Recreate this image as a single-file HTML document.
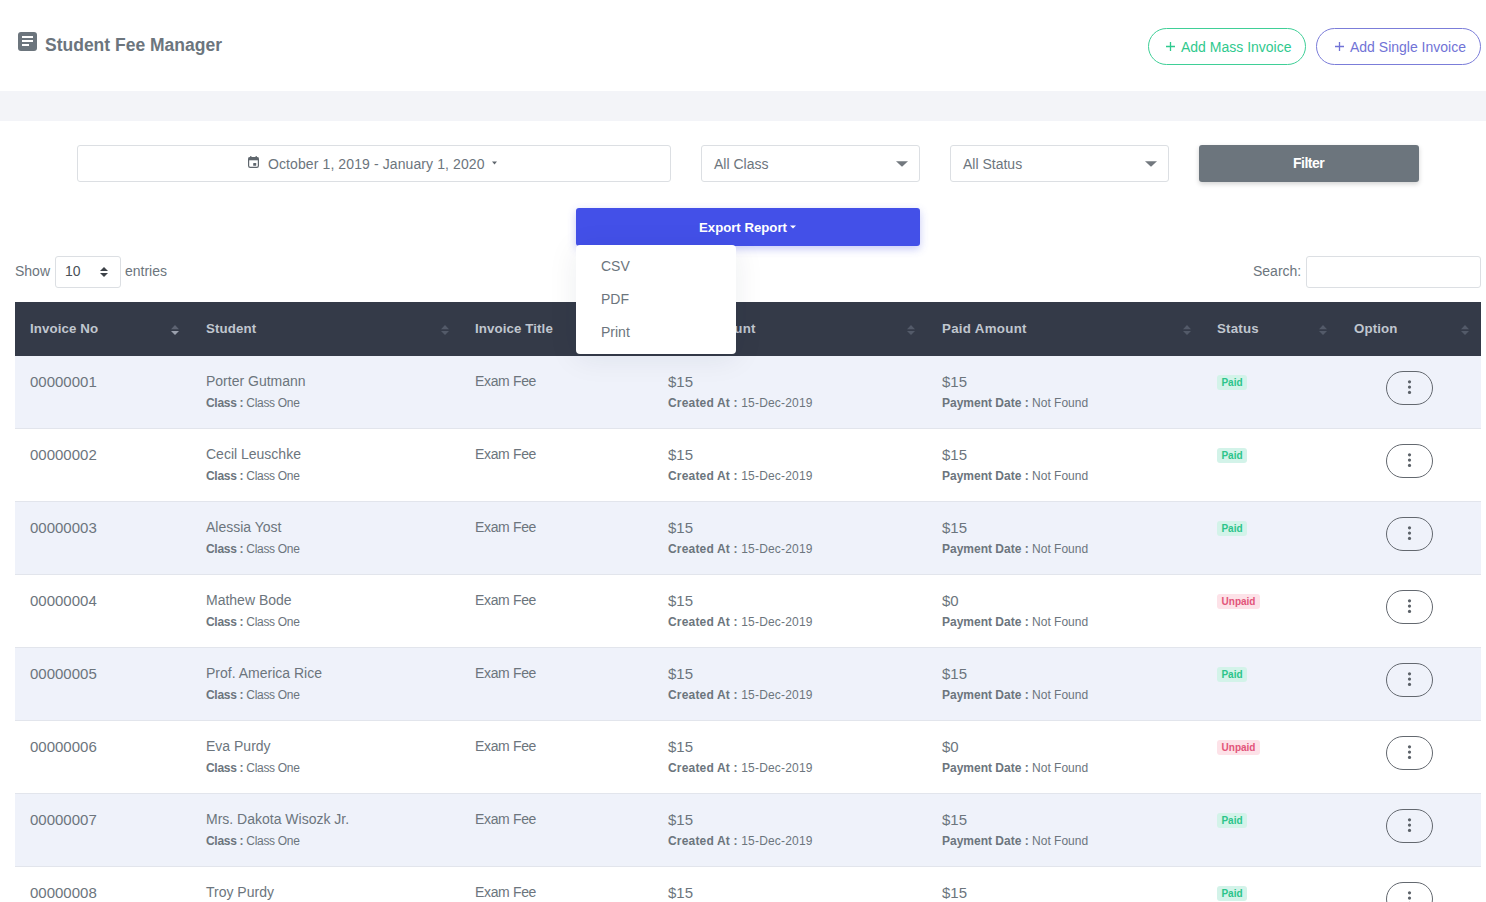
<!DOCTYPE html>
<html><head><meta charset="utf-8"><title>Student Fee Manager</title>
<style>
*{box-sizing:border-box;margin:0;padding:0}
html,body{width:1486px;height:902px;overflow:hidden;background:#fff;font-family:"Liberation Sans",sans-serif;color:#6c757d}
.a{position:absolute}
.t{position:absolute;white-space:nowrap;line-height:1}
.inp{position:absolute;border:1px solid #dcdfe3;border-radius:3px;background:#fff}
.th{position:absolute;top:322px;font-size:13.3px;font-weight:bold;color:#c0c6cf;white-space:nowrap;line-height:1}
.row{position:absolute;left:15px;width:1466px;height:73px;border-bottom:1px solid #e2e5ec}
.c{position:absolute;white-space:nowrap;font-size:14px;color:#6c757d;line-height:1}
.d{font-size:15px}
.s{position:absolute;white-space:nowrap;font-size:12px;color:#6c757d;line-height:1}
.badge{position:absolute;font-size:10px;font-weight:bold;border-radius:3px;height:15px;line-height:15px;text-align:center}
.paid{background:#d3f3e9;color:#2cc48a;width:30px}
.unpaid{background:#fde2e8;color:#e2557a;width:43px}
.opt{position:absolute;left:1386px;width:47px;height:34px;border:1px solid #63686f;border-radius:17px}
.opt i{position:absolute;left:20.5px;width:3.6px;height:3.6px;border-radius:2px;background:#5b6168}
</style></head><body>
<svg class="a" style="left:18px;top:32px" width="19" height="19" viewBox="0 0 19 19"><rect x="0" y="0" width="19" height="19" rx="3" fill="#6c757d"/><rect x="4" y="4" width="11" height="2" fill="#fff"/><rect x="4" y="8" width="11" height="2" fill="#fff"/><rect x="4" y="12" width="7" height="2" fill="#fff"/></svg>
<div class="t" style="left:45px;top:37px;font-size:17.5px;font-weight:bold">Student Fee Manager</div>
<div class="a" style="left:1148px;top:28px;width:158px;height:37px;border:1px solid #3fcf97;border-radius:18.5px"></div>
<svg class="a" style="left:1166px;top:42px" width="9" height="9" viewBox="0 0 9 9"><path d="M4.5 0V9M0 4.5H9" stroke="#2fc98e" stroke-width="1.3"/></svg>
<div class="t" style="left:1181px;top:40px;font-size:14px;color:#2fc98e">Add Mass Invoice</div>
<div class="a" style="left:1316px;top:28px;width:165px;height:37px;border:1px solid #7b7dd9;border-radius:18.5px"></div>
<svg class="a" style="left:1335px;top:42px" width="9" height="9" viewBox="0 0 9 9"><path d="M4.5 0V9M0 4.5H9" stroke="#7173d6" stroke-width="1.3"/></svg>
<div class="t" style="left:1350px;top:40px;font-size:14px;color:#7173d6">Add Single Invoice</div>
<div class="a" style="left:0;top:91px;width:1486px;height:30px;background:#f3f4f8"></div>
<div class="inp" style="left:77px;top:145px;width:594px;height:37px"></div>
<div class="inp" style="left:701px;top:145px;width:219px;height:37px"></div>
<div class="inp" style="left:950px;top:145px;width:219px;height:37px"></div>
<div class="a" style="left:1199px;top:145px;width:220px;height:37px;background:#6c757d;border-radius:3px;box-shadow:0 2px 5px rgba(0,0,0,.18)"></div>
<div class="t" style="left:1293px;top:156px;font-size:14px;font-weight:bold;color:#fff;letter-spacing:-0.5px">Filter</div>
<svg class="a" style="left:248px;top:156px" width="11" height="12" viewBox="0 0 11 12"><rect x="0.6" y="1.6" width="9.8" height="9.8" rx="1.6" fill="none" stroke="#5f666d" stroke-width="1.2"/><rect x="0.5" y="1.5" width="10" height="2.8" fill="#5f666d"/><rect x="2.2" y="0" width="1.2" height="2" fill="#5f666d"/><rect x="7.6" y="0" width="1.2" height="2" fill="#5f666d"/><rect x="5.2" y="7" width="3" height="2.8" rx="0.6" fill="#5f666d"/></svg>
<div class="t" style="left:268px;top:157px;font-size:14px;letter-spacing:0.1px">October 1, 2019 - January 1, 2020</div>
<svg class="a" style="left:492px;top:161px" width="5" height="4" viewBox="0 0 5 4"><path d="M0 0.5H5L2.5 3.5Z" fill="#5f666d"/></svg>
<div class="t" style="left:714px;top:157px;font-size:14px">All Class</div>
<div class="t" style="left:963px;top:157px;font-size:14px">All Status</div>
<svg class="a" style="left:896px;top:161px" width="12" height="6" viewBox="0 0 12 6"><path d="M0 0.3H12L6 5.8Z" fill="#72787e"/></svg>
<svg class="a" style="left:1145px;top:161px" width="12" height="6" viewBox="0 0 12 6"><path d="M0 0.3H12L6 5.8Z" fill="#72787e"/></svg>
<div class="a" style="left:576px;top:208px;width:344px;height:38px;background:#4350e8;border-radius:3px;box-shadow:0 3px 8px rgba(67,80,232,.30)"></div>
<div class="t" style="left:699px;top:220.5px;font-size:13.2px;font-weight:bold;color:#fff">Export Report</div>
<svg class="a" style="left:790px;top:225px" width="6" height="4" viewBox="0 0 6 4"><path d="M0 0.5H6L3 3.5Z" fill="#fff"/></svg>
<div class="t" style="left:15px;top:264px;font-size:14px">Show</div>
<div class="inp" style="left:55px;top:256px;width:66px;height:32px"></div>
<div class="t" style="left:65px;top:264px;font-size:14px;color:#495057">10</div>
<svg class="a" style="left:100px;top:267px" width="8" height="10" viewBox="0 0 8 10"><path d="M0 4H8L4 0Z M0 6H8L4 10Z" fill="#3d4248"/></svg>
<div class="t" style="left:125px;top:264px;font-size:14px">entries</div>
<div class="t" style="left:1253px;top:264px;font-size:14px">Search:</div>
<div class="inp" style="left:1306px;top:256px;width:175px;height:32px"></div>
<div class="a" style="left:15px;top:302px;width:1466px;height:54px;background:#343a48"></div>
<div class="th" style="left:30px;letter-spacing:0.1px">Invoice No</div>
<div class="th" style="left:206px;letter-spacing:0.1px">Student</div>
<div class="th" style="left:475px;letter-spacing:0.1px">Invoice Title</div>
<div class="th" style="left:668px;letter-spacing:0.3px">Total Amount</div>
<div class="th" style="left:942px;letter-spacing:0.3px">Paid Amount</div>
<div class="th" style="left:1217px;letter-spacing:0.2px">Status</div>
<div class="th" style="left:1354px;letter-spacing:0.1px">Option</div>
<svg class="a" style="left:171px;top:325px" width="8" height="10" viewBox="0 0 8 10"><path d="M0 4.3L4 0L8 4.3Z" fill="#5d6372"/><path d="M0 6L8 6L4 10Z" fill="#9aa0ad"/></svg>
<svg class="a" style="left:440.5px;top:325px" width="8" height="10" viewBox="0 0 8 10"><path d="M0 4.3L4 0L8 4.3Z" fill="#535a69"/><path d="M0 6L8 6L4 10Z" fill="#535a69"/></svg>
<svg class="a" style="left:637px;top:325px" width="8" height="10" viewBox="0 0 8 10"><path d="M0 4.3L4 0L8 4.3Z" fill="#535a69"/><path d="M0 6L8 6L4 10Z" fill="#535a69"/></svg>
<svg class="a" style="left:907px;top:325px" width="8" height="10" viewBox="0 0 8 10"><path d="M0 4.3L4 0L8 4.3Z" fill="#535a69"/><path d="M0 6L8 6L4 10Z" fill="#535a69"/></svg>
<svg class="a" style="left:1182.5px;top:325px" width="8" height="10" viewBox="0 0 8 10"><path d="M0 4.3L4 0L8 4.3Z" fill="#535a69"/><path d="M0 6L8 6L4 10Z" fill="#535a69"/></svg>
<svg class="a" style="left:1318.5px;top:325px" width="8" height="10" viewBox="0 0 8 10"><path d="M0 4.3L4 0L8 4.3Z" fill="#535a69"/><path d="M0 6L8 6L4 10Z" fill="#535a69"/></svg>
<svg class="a" style="left:1461px;top:325px" width="8" height="10" viewBox="0 0 8 10"><path d="M0 4.3L4 0L8 4.3Z" fill="#535a69"/><path d="M0 6L8 6L4 10Z" fill="#535a69"/></svg>
<div class="row" style="top:356px;background:#eff2fa"></div>
<div class="c d" style="left:30px;top:374px">00000001</div>
<div class="c" style="left:206px;top:374px">Porter Gutmann</div>
<div class="s" style="left:206px;top:397px;letter-spacing:-0.3px"><b>Class :</b> Class One</div>
<div class="c" style="left:475px;top:374px;letter-spacing:-0.35px">Exam Fee</div>
<div class="c d" style="left:668px;top:374px">$15</div>
<div class="s" style="left:668px;top:397px;letter-spacing:0.18px"><b>Created At :</b> 15-Dec-2019</div>
<div class="c d" style="left:942px;top:374px">$15</div>
<div class="s" style="left:942px;top:397px"><b>Payment Date :</b> Not Found</div>
<div class="badge paid" style="left:1217px;top:375px">Paid</div>
<div class="opt" style="top:371px"></div><svg class="a" style="left:1404px;top:371px" width="11" height="34" viewBox="0 0 11 34"><circle cx="5.5" cy="10.8" r="1.6" fill="#5b6168"/><circle cx="5.5" cy="16.1" r="1.6" fill="#5b6168"/><circle cx="5.5" cy="21.4" r="1.6" fill="#5b6168"/></svg>
<div class="row" style="top:429px;background:#fff"></div>
<div class="c d" style="left:30px;top:447px">00000002</div>
<div class="c" style="left:206px;top:447px">Cecil Leuschke</div>
<div class="s" style="left:206px;top:470px;letter-spacing:-0.3px"><b>Class :</b> Class One</div>
<div class="c" style="left:475px;top:447px;letter-spacing:-0.35px">Exam Fee</div>
<div class="c d" style="left:668px;top:447px">$15</div>
<div class="s" style="left:668px;top:470px;letter-spacing:0.18px"><b>Created At :</b> 15-Dec-2019</div>
<div class="c d" style="left:942px;top:447px">$15</div>
<div class="s" style="left:942px;top:470px"><b>Payment Date :</b> Not Found</div>
<div class="badge paid" style="left:1217px;top:448px">Paid</div>
<div class="opt" style="top:444px"></div><svg class="a" style="left:1404px;top:444px" width="11" height="34" viewBox="0 0 11 34"><circle cx="5.5" cy="10.8" r="1.6" fill="#5b6168"/><circle cx="5.5" cy="16.1" r="1.6" fill="#5b6168"/><circle cx="5.5" cy="21.4" r="1.6" fill="#5b6168"/></svg>
<div class="row" style="top:502px;background:#eff2fa"></div>
<div class="c d" style="left:30px;top:520px">00000003</div>
<div class="c" style="left:206px;top:520px">Alessia Yost</div>
<div class="s" style="left:206px;top:543px;letter-spacing:-0.3px"><b>Class :</b> Class One</div>
<div class="c" style="left:475px;top:520px;letter-spacing:-0.35px">Exam Fee</div>
<div class="c d" style="left:668px;top:520px">$15</div>
<div class="s" style="left:668px;top:543px;letter-spacing:0.18px"><b>Created At :</b> 15-Dec-2019</div>
<div class="c d" style="left:942px;top:520px">$15</div>
<div class="s" style="left:942px;top:543px"><b>Payment Date :</b> Not Found</div>
<div class="badge paid" style="left:1217px;top:521px">Paid</div>
<div class="opt" style="top:517px"></div><svg class="a" style="left:1404px;top:517px" width="11" height="34" viewBox="0 0 11 34"><circle cx="5.5" cy="10.8" r="1.6" fill="#5b6168"/><circle cx="5.5" cy="16.1" r="1.6" fill="#5b6168"/><circle cx="5.5" cy="21.4" r="1.6" fill="#5b6168"/></svg>
<div class="row" style="top:575px;background:#fff"></div>
<div class="c d" style="left:30px;top:593px">00000004</div>
<div class="c" style="left:206px;top:593px">Mathew Bode</div>
<div class="s" style="left:206px;top:616px;letter-spacing:-0.3px"><b>Class :</b> Class One</div>
<div class="c" style="left:475px;top:593px;letter-spacing:-0.35px">Exam Fee</div>
<div class="c d" style="left:668px;top:593px">$15</div>
<div class="s" style="left:668px;top:616px;letter-spacing:0.18px"><b>Created At :</b> 15-Dec-2019</div>
<div class="c d" style="left:942px;top:593px">$0</div>
<div class="s" style="left:942px;top:616px"><b>Payment Date :</b> Not Found</div>
<div class="badge unpaid" style="left:1217px;top:594px">Unpaid</div>
<div class="opt" style="top:590px"></div><svg class="a" style="left:1404px;top:590px" width="11" height="34" viewBox="0 0 11 34"><circle cx="5.5" cy="10.8" r="1.6" fill="#5b6168"/><circle cx="5.5" cy="16.1" r="1.6" fill="#5b6168"/><circle cx="5.5" cy="21.4" r="1.6" fill="#5b6168"/></svg>
<div class="row" style="top:648px;background:#eff2fa"></div>
<div class="c d" style="left:30px;top:666px">00000005</div>
<div class="c" style="left:206px;top:666px">Prof. America Rice</div>
<div class="s" style="left:206px;top:689px;letter-spacing:-0.3px"><b>Class :</b> Class One</div>
<div class="c" style="left:475px;top:666px;letter-spacing:-0.35px">Exam Fee</div>
<div class="c d" style="left:668px;top:666px">$15</div>
<div class="s" style="left:668px;top:689px;letter-spacing:0.18px"><b>Created At :</b> 15-Dec-2019</div>
<div class="c d" style="left:942px;top:666px">$15</div>
<div class="s" style="left:942px;top:689px"><b>Payment Date :</b> Not Found</div>
<div class="badge paid" style="left:1217px;top:667px">Paid</div>
<div class="opt" style="top:663px"></div><svg class="a" style="left:1404px;top:663px" width="11" height="34" viewBox="0 0 11 34"><circle cx="5.5" cy="10.8" r="1.6" fill="#5b6168"/><circle cx="5.5" cy="16.1" r="1.6" fill="#5b6168"/><circle cx="5.5" cy="21.4" r="1.6" fill="#5b6168"/></svg>
<div class="row" style="top:721px;background:#fff"></div>
<div class="c d" style="left:30px;top:739px">00000006</div>
<div class="c" style="left:206px;top:739px">Eva Purdy</div>
<div class="s" style="left:206px;top:762px;letter-spacing:-0.3px"><b>Class :</b> Class One</div>
<div class="c" style="left:475px;top:739px;letter-spacing:-0.35px">Exam Fee</div>
<div class="c d" style="left:668px;top:739px">$15</div>
<div class="s" style="left:668px;top:762px;letter-spacing:0.18px"><b>Created At :</b> 15-Dec-2019</div>
<div class="c d" style="left:942px;top:739px">$0</div>
<div class="s" style="left:942px;top:762px"><b>Payment Date :</b> Not Found</div>
<div class="badge unpaid" style="left:1217px;top:740px">Unpaid</div>
<div class="opt" style="top:736px"></div><svg class="a" style="left:1404px;top:736px" width="11" height="34" viewBox="0 0 11 34"><circle cx="5.5" cy="10.8" r="1.6" fill="#5b6168"/><circle cx="5.5" cy="16.1" r="1.6" fill="#5b6168"/><circle cx="5.5" cy="21.4" r="1.6" fill="#5b6168"/></svg>
<div class="row" style="top:794px;background:#eff2fa"></div>
<div class="c d" style="left:30px;top:812px">00000007</div>
<div class="c" style="left:206px;top:812px">Mrs. Dakota Wisozk Jr.</div>
<div class="s" style="left:206px;top:835px;letter-spacing:-0.3px"><b>Class :</b> Class One</div>
<div class="c" style="left:475px;top:812px;letter-spacing:-0.35px">Exam Fee</div>
<div class="c d" style="left:668px;top:812px">$15</div>
<div class="s" style="left:668px;top:835px;letter-spacing:0.18px"><b>Created At :</b> 15-Dec-2019</div>
<div class="c d" style="left:942px;top:812px">$15</div>
<div class="s" style="left:942px;top:835px"><b>Payment Date :</b> Not Found</div>
<div class="badge paid" style="left:1217px;top:813px">Paid</div>
<div class="opt" style="top:809px"></div><svg class="a" style="left:1404px;top:809px" width="11" height="34" viewBox="0 0 11 34"><circle cx="5.5" cy="10.8" r="1.6" fill="#5b6168"/><circle cx="5.5" cy="16.1" r="1.6" fill="#5b6168"/><circle cx="5.5" cy="21.4" r="1.6" fill="#5b6168"/></svg>
<div class="row" style="top:867px;background:#fff"></div>
<div class="c d" style="left:30px;top:885px">00000008</div>
<div class="c" style="left:206px;top:885px">Troy Purdy</div>
<div class="s" style="left:206px;top:908px;letter-spacing:-0.3px"><b>Class :</b> Class One</div>
<div class="c" style="left:475px;top:885px;letter-spacing:-0.35px">Exam Fee</div>
<div class="c d" style="left:668px;top:885px">$15</div>
<div class="s" style="left:668px;top:908px;letter-spacing:0.18px"><b>Created At :</b> 15-Dec-2019</div>
<div class="c d" style="left:942px;top:885px">$15</div>
<div class="s" style="left:942px;top:908px"><b>Payment Date :</b> Not Found</div>
<div class="badge paid" style="left:1217px;top:886px">Paid</div>
<div class="opt" style="top:882px"></div><svg class="a" style="left:1404px;top:882px" width="11" height="34" viewBox="0 0 11 34"><circle cx="5.5" cy="10.8" r="1.6" fill="#5b6168"/><circle cx="5.5" cy="16.1" r="1.6" fill="#5b6168"/><circle cx="5.5" cy="21.4" r="1.6" fill="#5b6168"/></svg>
<div class="a" style="left:576px;top:245px;width:160px;height:109px;background:#fff;border-radius:4px;box-shadow:0 4px 30px rgba(30,40,60,.08)"></div>
<div class="t" style="left:601px;top:259px;font-size:14px">CSV</div>
<div class="t" style="left:601px;top:292px;font-size:14px">PDF</div>
<div class="t" style="left:601px;top:325px;font-size:14px">Print</div>
</body></html>
